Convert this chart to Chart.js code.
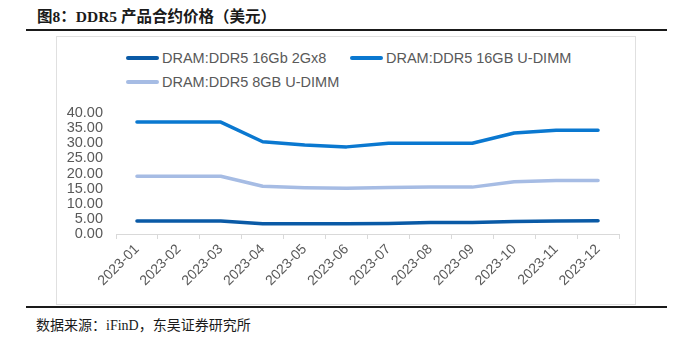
<!DOCTYPE html>
<html>
<head>
<meta charset="utf-8">
<script src="https://cdn.jsdelivr.net/npm/chart.js@4.4.1/dist/chart.umd.min.js"></script>
<style>
  html, body { margin:0; padding:0; background:#fff; }
  body { width:688px; height:338px; position:relative; overflow:hidden; }
  #title { position:absolute; left:37px; top:4px; font-family:"Liberation Serif","Noto Sans CJK SC",serif; font-weight:bold; font-size:15.5px; color:#1a1a1a; white-space:nowrap; }
  .rule { position:absolute; left:26px; width:641px; height:2px; background:#1a1a1a; }
  #box { position:absolute; left:56px; top:36px; width:580px; height:269px; border:1px solid #e0e0e0; box-sizing:border-box; }
  #source { position:absolute; left:36px; top:314px; font-family:"Liberation Serif","Noto Sans CJK SC",serif; font-size:14px; color:#1a1a1a; white-space:nowrap; }
  .leg { position:absolute; font-family:"Liberation Sans",Arial,sans-serif; font-size:14.5px; color:#595959; white-space:nowrap; line-height:16px; }
  .sw { position:absolute; height:4px; border-radius:2px; width:33px; }
  canvas { position:absolute; left:0; top:0; }
</style>
</head>
<body>
<div id="title">图8：DDR5 产品合约价格（美元）</div>
<div class="rule" style="top:29px"></div>
<div id="box"></div>
<div class="rule" style="top:306px"></div>
<div id="source">数据来源：iFinD，东吴证券研究所</div>
<div id="legend"></div>
<canvas id="c" width="688" height="338"></canvas>
<script>
const categories = ["2023-01","2023-02","2023-03","2023-04","2023-05","2023-06","2023-07","2023-08","2023-09","2023-10","2023-11","2023-12"];
const seriesNames = ["DRAM:DDR5 16Gb 2Gx8","DRAM:DDR5 16GB U-DIMM","DRAM:DDR5 8GB U-DIMM"];
const ddr5_16Gb_2Gx8 = [4.3,4.3,4.3,3.4,3.4,3.4,3.5,3.8,3.8,4.1,4.3,4.4];
const ddr5_16GB_UDIMM = [37.0,37.0,37.0,30.5,29.4,28.8,30.0,30.0,30.0,33.4,34.3,34.3];
const ddr5_8GB_UDIMM = [19.1,19.1,19.1,15.8,15.3,15.1,15.4,15.5,15.5,17.3,17.7,17.7];
const yTicks = [0,5,10,15,20,25,30,35,40];

const colors = ["#0A5AA6","#0A78D0","#A6BCE4"];

// HTML legend
const legendPos = [[126,58],[350,58],[126,82]];
const legendEl = document.getElementById('legend');
seriesNames.forEach((n,i)=>{
  const [x,y] = legendPos[i];
  const sw = document.createElement('div');
  sw.className='sw'; sw.style.left=x+'px'; sw.style.top=(y-2)+'px'; sw.style.background=colors[i];
  legendEl.appendChild(sw);
  const t = document.createElement('div');
  t.className='leg'; t.textContent=n; t.style.left=(x+36)+'px'; t.style.top=(y-8)+'px';
  legendEl.appendChild(t);
});

const data = [ddr5_16Gb_2Gx8, ddr5_16GB_UDIMM, ddr5_8GB_UDIMM];
new Chart(document.getElementById('c'), {
  type:'line',
  data:{
    labels:categories,
    datasets: seriesNames.map((n,i)=>({
      label:n, data:data[i], borderColor:colors[i], backgroundColor:colors[i],
      borderWidth:3.5, pointRadius:0, tension:0, borderCapStyle:'round', borderJoinStyle:'round'
    }))
  },
  options:{
    responsive:false, animation:false,
    layout:{ padding:{ left:0, right:69, top:113, bottom:0 } },
    plugins:{ legend:{display:false}, tooltip:{enabled:false} },
    scales:{
      x:{
        offset:true,
        grid:{ display:true, offset:true, drawOnChartArea:false, drawTicks:true, tickLength:5, color:'#d9d9d9' },
        border:{ display:true, color:'#d9d9d9', width:1 },
        ticks:{ minRotation:45, maxRotation:45, autoSkip:false, color:'#595959', padding:2,
          font:{ family:'"Liberation Sans", Arial, sans-serif', size:14 } },
        afterFit:(s)=>{ s.height = 104; }
      },
      y:{
        min:0, max:40,
        afterBuildTicks:(s)=>{ s.ticks = yTicks.map(v=>({value:v})); },
        grid:{ display:false, drawTicks:false },
        border:{ display:false },
        ticks:{ autoSkip:false, color:'#595959', padding:13, callback:(v)=>Number(v).toFixed(2),
          font:{ family:'"Liberation Sans", Arial, sans-serif', size:14.5 } },
        afterFit:(s)=>{ s.width = 116; }
      }
    }
  }
});
</script>
</body>
</html>
